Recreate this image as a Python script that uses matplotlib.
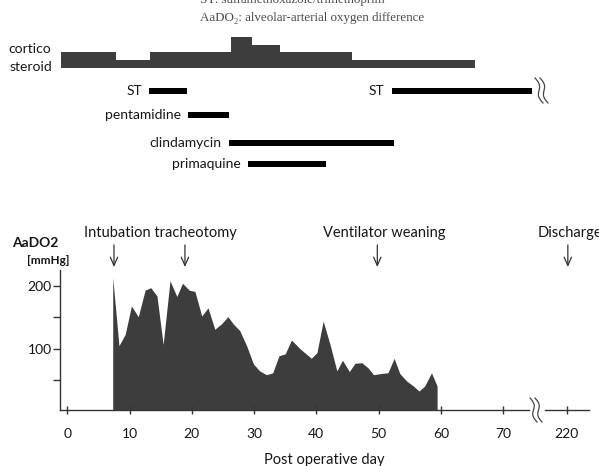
import numpy as np
import matplotlib.pyplot as plt

plt.rcParams['font.family'] = ['Lato', 'DejaVu Sans']

# AaDO2 [mmHg] by post operative day
days = [7.3, 8.3, 9.3, 10.3, 11.4, 12.5, 13.4, 14.4, 15.4, 16.5,
        17.6, 18.5, 19.6, 20.5, 21.6, 22.6, 23.7, 24.8, 25.8, 26.7,
        27.7, 28.8, 29.9, 30.9, 32.0, 33.0, 34.0, 35.0, 36.0, 37.4,
        39.2, 40.1, 41.1, 42.2, 43.3, 44.2, 45.3, 46.2, 47.3, 48.3,
        49.2, 50.5, 51.5, 52.5, 53.4, 54.5, 55.6, 56.5, 57.4, 58.5, 59.4]
aado2 = [213, 105, 123, 168, 151, 193, 197, 184, 107, 208,
         183, 204, 193, 191, 152, 165, 131, 140, 151, 139,
         129, 105, 76, 65, 59, 62, 89, 92, 114, 100,
         85, 94, 144, 107, 65, 82, 64, 77, 78, 70,
         59, 61, 62, 85, 61, 49, 41, 33, 41, 62, 41]

# corticosteroid dose (relative) as steps
steroid_edges = [-1.0, 7.9, 13.3, 26.3, 29.7, 34.2, 45.8, 65.5]
steroid_dose = [20, 10, 20, 40, 30, 20, 10]

# drugs
drug_names = ['ST', 'pentamidine', 'clindamycin', 'primaquine', 'ST']
drug_start = [13.2, 19.4, 25.9, 29.0, 52.1]
drug_end = [19.3, 26.0, 52.4, 41.5, 74.7]

# x axis (220 is drawn after the break)
xtick_pos = [0, 10, 20, 30, 40, 50, 60, 70, 80.2]
xtick_labels = ['0', '10', '20', '30', '40', '50', '60', '70', '220']
x_break = 75.2

event_day = [7.5, 18.9, 49.8, 80.4]

W, H = 599, 466
def fx(p): return p / W
def fy(p): return 1 - p / H

dark = '#3d3d3d'
txt = '#161616'
xlim = (-1.17, 83.8)

fig = plt.figure(figsize=(W / 100, H / 100), dpi=100)

# --- AaDO2 panel ---
ax = fig.add_axes([fx(60), fy(410), (589 - 60) / W, 140 / H])
ax.fill_between(days, 0, aado2, color=dark, lw=0)
ax.set_xlim(*xlim)
ax.set_ylim(3, 225)
for s in ['top', 'right', 'bottom']:
    ax.spines[s].set_visible(False)
ax.spines['left'].set_color('#333333')
ax.spines['left'].set_linewidth(1)
ax.set_yticks([100, 200])
ax.set_yticks([50, 150], minor=True)
ax.tick_params(axis='y', which='both', direction='out', length=5, width=1,
               color='#333333', labelsize=10, labelcolor=txt, pad=1)
ax.set_xticks(xtick_pos)
ax.set_xticklabels(xtick_labels)
ax.tick_params(axis='x', direction='inout', length=6, width=1,
               color='#333333', labelsize=10, labelcolor=txt, pad=10)
xt = ax.get_xaxis_transform()
ax.plot([xlim[0], x_break - 1.1], [0, 0], color='#333333', lw=1,
        transform=xt, clip_on=False)
ax.plot([x_break + 1.5, xlim[1]], [0, 0], color='#333333', lw=1,
        transform=xt, clip_on=False)
ax.set_xlabel('Post operative day', fontsize=10.5, color=txt, labelpad=9)

for d in event_day:
    ax.annotate('', xy=(d, 1.021), xytext=(d, 1.179), xycoords=xt,
                textcoords=xt,
                arrowprops=dict(arrowstyle='->,head_length=0.5,head_width=0.22',
                                lw=0.9, color='#333333', shrinkA=0, shrinkB=0,
                                mutation_scale=12))

fig.text(fx(84), fy(233), 'Intubation tracheotomy', fontsize=10.5,
         color=txt, va='center', ha='left')
fig.text(fx(323), fy(233), 'Ventilator weaning', fontsize=10.5,
         color=txt, va='center', ha='left')
fig.text(fx(538), fy(233), 'Discharge', fontsize=10.5,
         color=txt, va='center', ha='left')
fig.text(fx(12), fy(243), 'AaDO2', fontsize=10, fontweight='bold',
         color=txt, va='center', ha='left')
fig.text(fx(27), fy(261), '[mmHg]', fontsize=8.5, fontweight='bold',
         color=txt, va='center', ha='left')

# --- corticosteroid ---
ax_s = fig.add_axes([fx(60), fy(68), (589 - 60) / W, 31.3 / H])
ax_s.stairs(steroid_dose, steroid_edges, fill=True, color=dark, lw=0)
ax_s.set_xlim(*xlim)
ax_s.set_ylim(0, 40)
ax_s.axis('off')
fig.text(fx(30), fy(49), 'cortico', fontsize=10, color=txt,
         ha='center', va='center')
fig.text(fx(31), fy(67), 'steroid', fontsize=10, color=txt,
         ha='center', va='center')

# --- drugs ---
row_px = [90.7, 115, 143.3, 164.3, 90.7]
ax_d = fig.add_axes([fx(60), fy(180), (589 - 60) / W, 105 / H])
ax_d.set_xlim(*xlim)
ax_d.set_ylim(180, 75)
ax_d.axis('off')
widths = np.array(drug_end) - np.array(drug_start)
ax_d.barh(row_px, widths, left=drug_start, height=6, color='black')
for name, s, y in zip(drug_names, drug_start, row_px):
    ax_d.annotate(name, xy=(s, y), xytext=(-5, 0), textcoords='offset points',
                  ha='right', va='center', fontsize=10, color=txt)

# --- break marks (pixel overlay) ---
ov = fig.add_axes([0, 0, 1, 1])
ov.set_xlim(0, W)
ov.set_ylim(H, 0)
ov.axis('off')
def wavy(x0, y0, y1, drift):
    t = np.linspace(0, 1, 40)
    xs = x0 + drift * t + 2.2 * np.sin(2 * np.pi * t)
    ys = y0 + (y1 - y0) * t
    ov.plot(xs, ys, color='#444444', lw=0.9)
for dx in (0, 5):
    wavy(530 + dx, 398, 422, 7)
    wavy(535 + dx, 78, 103, 8)

serif = ['Liberation Serif', 'DejaVu Serif']
fig.text(fx(200), fy(3.5), 'ST: sulfamethoxazole/trimethoprim', fontsize=9.4,
         family=serif, color='#4a4a4a', va='baseline', ha='left')
fig.text(fx(200), fy(21), 'AaDO\u2082: alveolar-arterial oxygen difference',
         fontsize=9.4, family=serif, color='#4a4a4a', va='baseline', ha='left')

fig.savefig('out.png', dpi=100)
